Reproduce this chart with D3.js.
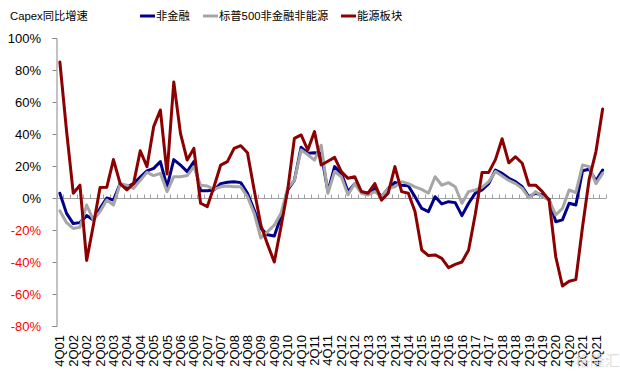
<!DOCTYPE html>
<html><head><meta charset="utf-8">
<script src="https://cdn.jsdelivr.net/npm/d3@7"></script>
<style>body{margin:0;background:#fff}svg{display:block}</style>
</head><body>
<script>
const quarters = ["4Q01","1Q02","2Q02","3Q02","4Q02","1Q03","2Q03","3Q03","4Q03","1Q04","2Q04","3Q04","4Q04","1Q05","2Q05","3Q05","4Q05","1Q06","2Q06","3Q06","4Q06","1Q07","2Q07","3Q07","4Q07","1Q08","2Q08","3Q08","4Q08","1Q09","2Q09","3Q09","4Q09","1Q10","2Q10","3Q10","4Q10","1Q11","2Q11","3Q11","4Q11","1Q12","2Q12","3Q12","4Q12","1Q13","2Q13","3Q13","4Q13","1Q14","2Q14","3Q14","4Q14","1Q15","2Q15","3Q15","4Q15","1Q16","2Q16","3Q16","4Q16","1Q17","2Q17","3Q17","4Q17","1Q18","2Q18","3Q18","4Q18","1Q19","2Q19","3Q19","4Q19","1Q20","2Q20","3Q20","4Q20","1Q21","2Q21","3Q21","4Q21","1Q22"];
const tickLabels = quarters.filter((q, i) => i % 2 === 0);
const nonFin = [3,-9.6,-16,-15.4,-11,-13.7,-6.5,0,-1.3,9,7,9,13,17,18.5,22.7,7,24,20.6,16.5,22.7,4.6,4.6,5,9,9.8,10.2,9.6,3,-7.5,-19,-23,-23.7,-11.7,5,11,31.7,28,28.3,28,4,19.6,15.4,4,9,4,3,6,0.8,6,9.8,8,7.7,0.8,-6.5,-8.5,0.8,-3.7,-2.3,-2.9,-11,-3.3,3,5,9,17.5,15.4,12.3,10.2,7,0.8,3,1.9,-0.8,-14.8,-13.7,-3.3,-4.4,17,18,10.8,17.5];
const sp500 = [-8,-15.4,-19,-18.3,-4.4,-13.7,-8.5,-1.3,-4.4,9,8,6,11,16,14,15.4,4,13.3,13.3,14,19.6,8,7.5,5.4,7,7.5,7,7,0.8,-9.6,-25,-21,-17,-9.6,6,11,30,27,23.7,33,3,16.5,13.3,2,9,3,1.9,4,0.8,6,7,10.2,9,7,5.4,3,13.3,8,9.6,7,-3.3,4,5,6.7,10.2,16.5,13.7,11,9,6,0,4,0.8,-1.3,-10.6,-6.5,5,3.3,20.6,19.6,9,15.4];
const energy = [85,42,3,8,-39,-17,6.5,6.7,24,9,5,9,29.5,19.6,44.6,55,15,72.5,40.4,23.7,31,-3.3,-5.4,7,20.6,22.7,31,32.7,28.3,5,-17,-29,-40,-18,5,37.3,39.4,30,41.5,20.6,23,25.4,16.5,12.3,13.3,4,3,9,-1.3,3,19.6,4,3,-8.5,-32.5,-36,-35.6,-37.7,-43.5,-41.5,-40,-32.5,-10,16,16,24,37,22,25.8,21.7,8,8,4,-1.3,-36.7,-55,-52,-51,-18,12,29,55.6];
const yTicks = [-80,-60,-40,-20,0,20,40,60,80,100];
const seriesNames = ["非金融","标普500非金融非能源","能源板块"];
const seriesColors = ["#00008B","#A6A6A6","#8B0000"];
const titleText = "Capex同比增速";

const W = 620, H = 377;
const svg = d3.select("body").append("svg").attr("width", W).attr("height", H);
const font = "'Liberation Sans', Arial, 'Noto Sans CJK SC', sans-serif";

const x = d3.scaleBand().domain(quarters).range([56.5, 606]);
const y = d3.scaleLinear().domain([-80, 100]).range([326, 38]);
const cx = q => x(q) + x.bandwidth() / 2;

// Y axis
const yAxis = svg.append("g").attr("transform", "translate(56.5,0)")
  .call(d3.axisLeft(y).tickValues(yTicks).tickSize(4).tickFormat(d => d + "%"));
yAxis.select(".domain").attr("stroke", "#868686").attr("stroke-width", 1);
yAxis.selectAll(".tick line").attr("stroke", "#868686");
yAxis.selectAll(".tick text").attr("x", -15.5).attr("font-size", "13px").attr("font-family", font)
  .attr("fill", d => d < 0 ? "#FF0000" : "#000");

// X axis along zero
const y0 = Math.round(y(0)) + 0.5;
svg.append("line").attr("x1", 56.5).attr("x2", 606).attr("y1", y0).attr("y2", y0)
  .attr("stroke", "#A0A0A0").attr("stroke-width", 1.2);
const bounds = quarters.map(q => x(q)).concat([x.range()[1]]);
svg.append("g").selectAll("line").data(bounds).join("line")
  .attr("x1", d => Math.round(d) + 0.5).attr("x2", d => Math.round(d) + 0.5)
  .attr("y1", y0 - 4).attr("y2", y0).attr("stroke", "#A0A0A0").attr("stroke-width", 1);

// X labels at bottom
svg.append("g").selectAll("text").data(tickLabels).join("text")
  .attr("transform", d => `translate(${cx(d) + 4.6},335) rotate(-90)`)
  .attr("text-anchor", "end").attr("font-size", "13px").attr("font-family", font)
  .attr("fill", "#000").text(d => d);

// Lines
const line = d3.line().x((d, i) => cx(quarters[i])).y(d => y(d));
[nonFin, sp500, energy].forEach((s, k) => {
  svg.append("path").datum(s).attr("d", line).attr("fill", "none")
    .attr("stroke", seriesColors[k]).attr("stroke-width", 3)
    .attr("stroke-linejoin", "round").attr("stroke-linecap", "round");
});

// Title
svg.append("text").attr("x", 10).attr("y", 19.5).attr("font-size", "11.3px")
  .attr("font-family", font).attr("fill", "#000").text(titleText);

// Legend
const legX = [140, 203, 341];
seriesNames.forEach((n, k) => {
  svg.append("line").attr("x1", legX[k]).attr("x2", legX[k] + 15).attr("y1", 16).attr("y2", 16)
    .attr("stroke", seriesColors[k]).attr("stroke-width", 3);
  svg.append("text").attr("x", legX[k] + 16).attr("y", 20).attr("font-size", "11.3px")
    .attr("font-family", font).attr("fill", "#000").text(n);
});

// Watermark
svg.append("text").attr("x", 575).attr("y", 366).attr("font-size", "15px")
  .attr("font-family", font).attr("fill", "#d8d8d8").attr("opacity", 0.8).text("格隆汇");
</script>
</body></html>
